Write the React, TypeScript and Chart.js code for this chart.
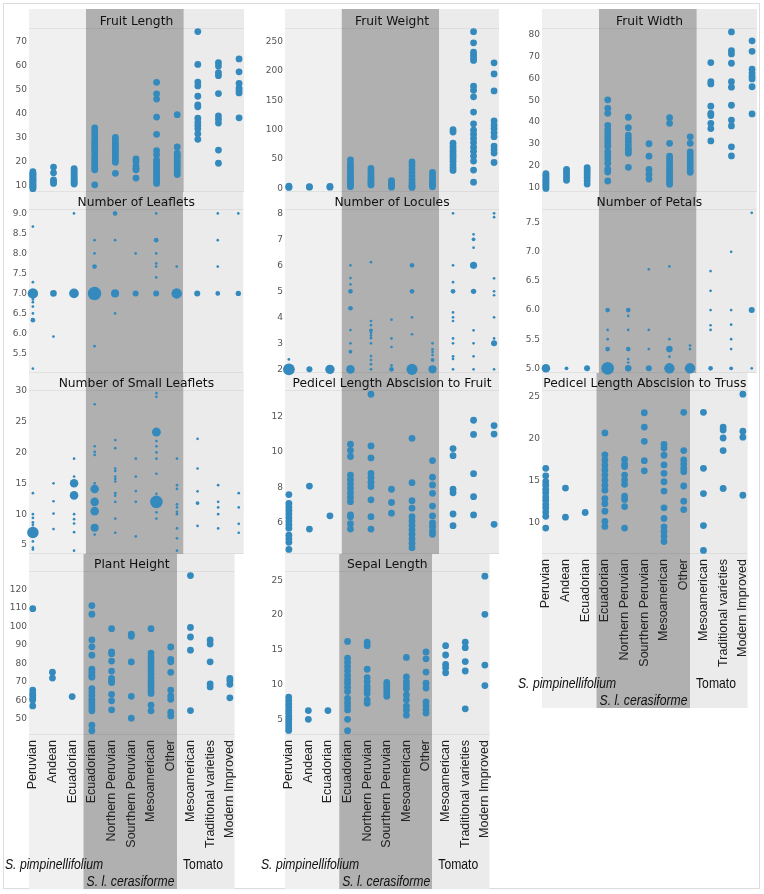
import React, { useEffect, useRef } from 'react';
import { Chart, registerables } from 'chart.js';
Chart.register(...registerables);

// ---------- data ----------
const categories = ['Peruvian', 'Andean', 'Ecuadorian', 'Ecuadorian', 'Northern Peruvian', 'Sourthern Peruvian', 'Mesoamerican', 'Other', 'Mesoamerican', 'Traditional varieties', 'Modern Improved'];
const groupNames = ['S. pimpinellifolium', 'S. l. cerasiforme', 'Tomato'];
const groupBounds = [-0.19, 2.575, 7.32, 10.24];

const fruitLength = [
  [8.6, 9.1, 9.6, 10.1, 10.5, 11.0, 11.6, 12.1, 12.5, 13.0, 13.6, 14.1, 14.6, 15.0, 15.7],
  [17.6, 15.2, 12.3, 11.5, 10.8],
  [17.0, 16.2, 15.3, 14.5, 13.7, 13.0, 12.3, 11.6, 11.0, 10.5],
  [34.0, 33.0, 31.6, 30.4, 29.1, 28.0, 27.0, 26.1, 25.0, 24.4, 23.1, 22.0, 21.0, 20.1, 19.0, 18.0, 17.1, 16.5, 10.2],
  [30.0, 29.1, 28.0, 27.1, 26.4, 25.5, 24.6, 23.5, 22.4, 21.6, 20.5, 19.6, 15.0],
  [21.0, 20.0, 18.1, 17.0, 16.5, 13.0],
  [53.0, 48.2, 46.0, 38.5, 31.3, 24.5, 22.8, 20.6, 19.5, 18.6, 17.5, 16.6, 15.5, 14.5, 13.6, 12.5, 11.6, 10.8],
  [39.5, 26.0, 23.4, 22.5, 21.6, 20.5, 19.6, 18.5, 17.6, 16.5, 15.6, 14.5],
  [74.2, 60.5, 53.1, 51.5, 47.2, 43.6, 42.8, 38.0, 36.4, 35.0, 33.6, 31.5, 29.2],
  [61.2, 59.8, 57.0, 55.8, 48.3, 39.0, 37.6, 36.0, 24.7, 19.2],
  [62.8, 57.4, 52.6, 50.6, 49.6, 48.6, 38.2],
];
const fruitLengthTicks = [10, 20, 30, 40, 50, 60, 70];

const fruitWeight = [
  [1.5, 2.5, 3.5],
  [2.0, 3.0],
  [2.0, 3.2],
  [48.5, 42.0, 37.0, 32.5, 28.5, 24.5, 20.5, 17.0, 13.5, 10.5, 7.5, 5.0, 2.8],
  [34.0, 29.0, 24.0, 20.0, 16.0, 12.0, 8.5, 5.8],
  [13.2, 10.0, 7.0, 4.0, 2.0],
  [45.0, 39.5, 33.0, 27.0, 21.0, 15.0, 10.0, 6.0, 3.0, 1.5],
  [27.0, 21.0, 16.0, 12.0, 8.0, 5.0, 2.5],
  [100.0, 96.0, 77.0, 72.0, 67.5, 63.0, 58.5, 54.5, 50.0, 45.5, 40.0, 35.0, 30.5],
  [267, 248, 232, 227, 222, 218, 174, 167, 156, 130, 110, 99, 92, 85, 78, 70, 63, 55, 46.5, 31, 10.5],
  [214, 195, 166, 115, 108, 102, 95, 88, 72, 66, 60, 44],
];
const fruitWeightTicks = [0, 50, 100, 150, 200, 250];

const fruitWidth = [
  [16.3, 15.6, 14.8, 14.0, 13.2, 12.5, 11.8, 11.0, 10.3, 9.5],
  [18.2, 17.0, 15.8, 14.5, 13.2],
  [19.0, 18.0, 17.0, 15.8, 14.5, 13.0, 11.5],
  [50.2, 46.3, 44.0, 38.5, 36.5, 34.8, 33.2, 31.7, 30.0, 28.7, 26.3, 24.8, 23.0, 21.0, 18.3, 17.0, 12.9],
  [42.2, 37.4, 34.0, 32.5, 31.0, 29.5, 28.0, 26.8, 25.6, 19.2],
  [30.0, 24.3, 18.2, 16.0, 13.8],
  [42.0, 39.4, 30.2, 24.3, 23.0, 21.8, 20.5, 19.2, 18.0, 17.0, 15.8, 14.6, 13.5, 12.3, 11.4],
  [33.2, 30.2, 26.3, 24.8, 23.3, 21.8, 20.4, 19.0, 17.8, 16.9],
  [67.3, 58.5, 57.5, 47.3, 44.0, 43.0, 39.4, 37.0, 31.3],
  [81.4, 72.8, 71.3, 67.0, 58.5, 56.0, 47.7, 40.9, 38.2, 28.6, 24.4],
  [77.3, 72.5, 64.3, 62.5, 61.0, 59.8, 56.2, 43.7],
];
const fruitWidthTicks = [10, 20, 30, 40, 50, 60, 70, 80];

// [value, number of accessions]
const leaflets = [
  [[8.67, 1], [7.28, 1], [7.0, 15], [6.85, 1], [6.78, 1], [6.67, 1], [6.5, 1], [6.33, 3], [5.12, 1]],
  [[7.0, 6], [5.92, 1]],
  [[9.0, 1], [7.0, 13]],
  [[8.33, 1], [8.0, 1], [7.67, 3], [7.0, 25], [5.68, 1]],
  [[9.0, 3], [8.33, 1], [7.0, 9], [6.5, 1]],
  [[8.0, 1], [7.0, 5]],
  [[9.0, 1], [8.33, 3], [8.0, 1], [7.75, 1], [7.67, 1], [7.4, 1], [7.0, 5]],
  [[7.67, 1], [7.0, 15]],
  [[7.0, 5]],
  [[9.0, 1], [8.33, 1], [7.67, 1], [7.0, 3]],
  [[9.0, 1], [7.0, 4]],
];
const leafletTicks = [5.5, 6.0, 6.5, 7.0, 7.5, 8.0, 8.5, 9.0];

const locules = [
  [[2.38, 1], [2.0, 19]],
  [[2.0, 5]],
  [[2.0, 12]],
  [[6.0, 1], [5.51, 1], [5.27, 1], [5.0, 3], [4.35, 3], [3.51, 1], [3.0, 1], [2.68, 2], [2.0, 10]],
  [[6.12, 1], [3.86, 1], [3.7, 1], [3.5, 2], [3.4, 1], [3.3, 1], [3.2, 1], [3.0, 1], [2.51, 1], [2.36, 1], [2.2, 1], [2.0, 1]],
  [[3.91, 1], [3.19, 1], [2.86, 1], [2.15, 1], [2.0, 3]],
  [[6.0, 3], [5.0, 3], [4.0, 1], [3.35, 1], [2.0, 17]],
  [[3.0, 1], [2.77, 1], [2.67, 1], [2.55, 1], [2.36, 2], [2.0, 9]],
  [[8.0, 1], [6.0, 1], [5.35, 1], [5.0, 3], [4.19, 1], [4.0, 1], [3.86, 1], [3.19, 1], [3.0, 1], [2.5, 1], [2.4, 1], [2.0, 1]],
  [[7.19, 1], [7.0, 2], [6.68, 1], [6.0, 7], [5.0, 4], [3.5, 1], [3.0, 1], [2.5, 1], [2.0, 1]],
  [[8.0, 1], [7.85, 1], [5.5, 1], [5.0, 1], [4.85, 1], [4.0, 1], [3.19, 1], [3.0, 5], [2.0, 1]],
];
const loculeTicks = [2, 3, 4, 5, 6, 7, 8];

const petals = [
  [[5.0, 10]],
  [[5.0, 2]],
  [[5.0, 5]],
  [[6.0, 3], [5.66, 1], [5.5, 1], [5.33, 3], [5.0, 22]],
  [[6.0, 3], [5.9, 1], [5.66, 1], [5.33, 3], [5.16, 1], [5.1, 1], [5.0, 6]],
  [[6.7, 1], [5.66, 1], [5.33, 1], [5.0, 5]],
  [[6.75, 1], [5.5, 1], [5.33, 6], [5.2, 1], [5.0, 15]],
  [[5.39, 1], [5.33, 1], [5.0, 15]],
  [[6.67, 1], [6.33, 1], [6.0, 1], [5.74, 1], [5.66, 1], [5.0, 3]],
  [[7.0, 1], [6.0, 1], [5.75, 1], [5.5, 1], [5.33, 1], [5.0, 2]],
  [[7.67, 1], [6.0, 5], [5.0, 1]],
];
const petalTicks = [5.0, 5.5, 6.0, 6.5, 7.0, 7.5];

const smallLeaflets = [
  [[13.4, 1], [10.0, 1], [9.4, 1], [8.7, 1], [8.3, 1], [7.8, 1], [7.05, 18], [5.6, 1], [4.6, 1], [4.3, 1]],
  [[15.0, 1], [12.1, 1], [10.1, 1], [7.6, 1]],
  [[19.0, 1], [16.1, 1], [15.0, 10], [13.05, 10], [10.0, 1], [9.2, 1], [8.5, 1], [7.1, 1], [4.1, 1]],
  [[27.8, 1], [21.0, 1], [20.1, 1], [19.6, 1], [15.0, 1], [14.07, 10], [12.0, 10], [10.5, 10], [7.8, 9], [6.7, 1]],
  [[22.0, 1], [20.7, 1], [17.4, 1], [17.0, 1], [16.1, 1], [15.7, 1], [15.3, 1], [13.4, 1], [13.0, 1], [12.0, 1], [9.3, 1], [7.0, 1]],
  [[19.0, 1], [16.1, 1], [13.75, 1], [12.0, 1], [6.4, 1]],
  [[29.6, 1], [29.0, 1], [23.3, 11], [21.85, 1], [21.0, 1], [20.0, 1], [19.0, 1], [16.55, 1], [13.3, 1], [12.0, 22], [10.3, 1], [9.3, 1]],
  [[19.0, 1], [14.7, 1], [14.1, 1], [11.6, 1], [11.1, 1], [10.4, 1], [10.0, 1], [7.7, 1], [6.1, 1], [4.1, 1]],
  [[22.2, 1], [17.4, 1], [13.7, 1], [11.8, 2], [8.1, 1]],
  [[14.7, 1], [12.0, 1], [11.1, 1], [10.0, 1], [7.7, 1]],
  [[13.4, 1], [11.1, 1], [8.45, 1], [7.0, 1]],
];
const smallLeafletTicks = [5, 10, 15, 20, 25, 30];

const plantHeight = [
  [109.5, 65.5, 63.7, 62.5, 61.0, 60.1, 56.9],
  [75.2, 72.0],
  [62.0],
  [111.2, 106.5, 92.6, 88.9, 84.4, 76.8, 75.2, 73.5, 72.5, 66.3, 64.5, 62.5, 60.5, 59.0, 57.5, 55.8, 54.3, 46.5, 43.5],
  [98.7, 86.2, 85.2, 81.2, 75.8, 71.8, 70.5, 69.6, 63.2, 59.7, 54.8],
  [95.7, 94.6, 80.7, 62.1, 50.3],
  [98.7, 85.5, 83.5, 81.8, 79.8, 78.0, 76.0, 74.3, 72.3, 70.5, 68.8, 67.0, 65.2, 63.7, 57.4, 54.3],
  [88.8, 82.1, 80.8, 75.1, 65.5, 62.3, 60.5, 53.5, 51.5],
  [127.4, 99.4, 94.2, 87.1, 54.4],
  [92.6, 90.4, 80.8, 68.9, 67.2],
  [71.8, 70.5, 68.6, 61.3],
];
const plantHeightTicks = [50, 60, 70, 80, 90, 100, 110, 120];

const pedicelFruit = [
  [7.6, 7.1, 6.9, 6.7, 6.5, 6.3, 6.1, 5.9, 5.7, 5.3, 5.1, 4.9, 4.5],
  [8.08, 5.65],
  [6.4],
  [10.45, 10.1, 9.75, 8.7, 8.45, 8.2, 7.95, 7.7, 7.45, 7.2, 6.45, 6.35, 5.95, 5.65],
  [13.27, 10.35, 9.67, 8.8, 8.55, 8.3, 8.05, 7.3, 6.35, 5.65],
  [7.9, 7.15, 6.55],
  [10.78, 8.27, 7.25, 6.83, 6.35, 6.1, 5.85, 5.6, 5.35, 5.1, 4.85, 4.6],
  [9.52, 8.58, 8.14, 7.67, 6.95, 6.39, 6.0, 5.8, 5.55, 5.35],
  [10.2, 9.8, 7.9, 7.7, 6.5, 5.84],
  [11.8, 11.0, 8.78, 7.48, 6.45],
  [11.5, 11.02, 5.92],
];
const pedicelFruitTicks = [6, 8, 10, 12];

const sepalLength = [
  [8.2, 7.7, 7.2, 6.8, 6.3, 5.9, 5.4, 5.0, 4.6, 4.2, 3.8, 3.4],
  [6.25, 5.0],
  [6.25],
  [16.2, 13.8, 13.2, 12.6, 12.0, 11.3, 10.7, 10.2, 9.6, 9.0, 8.0, 7.4, 6.9, 6.35, 5.0, 3.36],
  [16.1, 15.6, 12.2, 11.0, 10.4, 9.7, 9.2, 8.7, 7.8, 7.3],
  [10.3, 9.9, 9.5, 9.1, 8.7, 8.3],
  [13.9, 11.1, 10.4, 9.9, 9.4, 8.5, 7.8, 6.9, 6.3, 5.6],
  [14.7, 13.7, 11.8, 10.2, 9.5, 7.5, 7.0, 6.4, 5.9],
  [15.6, 14.25, 12.9, 12.4, 11.7],
  [16.1, 15.3, 13.3, 11.95, 6.5],
  [25.6, 20.1, 12.8, 9.85],
];
const sepalTicks = [5, 10, 15, 20, 25];

const pedicelTruss = [
  [16.5, 15.6, 14.9, 14.5, 14.0, 13.6, 13.1, 12.7, 12.2, 11.8, 11.3, 10.8, 9.4],
  [14.15, 10.7],
  [11.25],
  [20.7, 18.1, 17.5, 16.9, 16.3, 15.7, 15.1, 14.5, 13.9, 12.9, 12.3, 11.4, 10.2, 9.6],
  [17.55, 17.0, 16.7, 15.7, 15.1, 14.6, 13.2, 12.8, 11.95, 9.4],
  [23.1, 21.4, 19.7, 17.4, 16.2],
  [19.35, 18.9, 18.05, 16.9, 15.9, 14.9, 13.8, 11.8, 10.55, 9.55, 9.0, 8.4, 7.8],
  [23.15, 18.6, 17.5, 17.0, 16.5, 16.1, 14.4, 12.6, 11.6],
  [23.15, 16.5, 13.5, 9.7, 6.75],
  [21.4, 21.05, 20.1, 18.6, 14.1],
  [25.3, 20.9, 20.2, 13.3],
];
const pedicelTrussTicks = [10, 15, 20, 25];

// ---------- layout / style ----------
const COL_LEFT = [29, 285, 542];
const COL_W = [215, 214, 215];
const ROW_TOP = [28, 209, 390, 571];
const PLOT_H = 164;
const AXIS_W = 28;
const PAD_R = 6;
const OVER = 8;
const XAXIS_H = 154;
const GROUP_COLORS = ['#f0f0f0', '#b0b0b0', '#ebebeb'];
const DOT = '#348ABD';
const NARROW = 0.84;

type PanelDef = {
  title: string; values: any[]; sized?: boolean; ticks: number[];
  min: number; max: number; dec: number; col: number; row: number; bottom?: boolean;
};

const panels: PanelDef[] = [
  { title: 'Fruit Length', values: fruitLength, ticks: fruitLengthTicks, min: 7.2, max: 75.7, dec: 0, col: 0, row: 0 },
  { title: 'Number of Leaflets', values: leaflets, sized: true, ticks: leafletTicks, min: 5.01, max: 9.11, dec: 1, col: 0, row: 1 },
  { title: 'Number of Small Leaflets', values: smallLeaflets, sized: true, ticks: smallLeafletTicks, min: 3.56, max: 30.11, dec: 0, col: 0, row: 2 },
  { title: 'Plant Height', values: plantHeight, ticks: plantHeightTicks, min: 41.2, max: 129.9, dec: 0, col: 0, row: 3, bottom: true },
  { title: 'Fruit Weight', values: fruitWeight, ticks: fruitWeightTicks, min: -6.3, max: 273.3, dec: 0, col: 1, row: 0 },
  { title: 'Number of Locules', values: locules, sized: true, ticks: loculeTicks, min: 1.86, max: 8.165, dec: 0, col: 1, row: 1 },
  { title: 'Pedicel Length Abscision to Fruit', values: pedicelFruit, ticks: pedicelFruitTicks, min: 4.24, max: 13.51, dec: 0, col: 1, row: 2 },
  { title: 'Sepal Length', values: sepalLength, ticks: sepalTicks, min: 2.74, max: 26.34, dec: 0, col: 1, row: 3, bottom: true },
  { title: 'Fruit Width', values: fruitWidth, ticks: fruitWidthTicks, min: 7.84, max: 83.2, dec: 0, col: 2, row: 0 },
  { title: 'Number of Petals', values: petals, sized: true, ticks: petalTicks, min: 4.92, max: 7.735, dec: 1, col: 2, row: 1 },
  { title: 'Pedicel Length Abscision to Truss', values: pedicelTruss, ticks: pedicelTrussTicks, min: 6.32, max: 25.8, dec: 0, col: 2, row: 2, bottom: true },
];

function narrowText(ctx: CanvasRenderingContext2D, text: string, x: number, y: number) {
  ctx.save();
  ctx.translate(x, y);
  ctx.scale(NARROW, 1);
  ctx.fillText(text, 0, 0);
  ctx.restore();
}

function Panel({ def }: { def: PanelDef }) {
  const ref = useRef<HTMLCanvasElement>(null);
  const top = def.row === 0 ? 9 : ROW_TOP[def.row - 1] + PLOT_H;
  const strip = ROW_TOP[def.row] - top;
  const height = strip + PLOT_H + (def.bottom ? XAXIS_H : OVER);
  const width = AXIS_W + COL_W[def.col] + PAD_R;
  const left = COL_LEFT[def.col] - AXIS_W;

  useEffect(() => {
    const points: any[] = [];
    def.values.forEach((arr: any[], i: number) => {
      arr.forEach((v: any) => {
        if (def.sized) points.push({ x: i, y: v[0], r: 1.35 * Math.sqrt(v[1]) });
        else points.push({ x: i, y: v, r: 3.4 });
      });
    });

    const panelPlugin = {
      id: 'panelDecor',
      beforeDraw(chart: any) {
        const { ctx, chartArea } = chart;
        const x = chart.scales.x;
        const bottomY = def.bottom ? chart.height : chartArea.bottom;
        ctx.save();
        for (let g = 0; g < 3; g++) {
          const x0 = x.getPixelForValue(groupBounds[g]);
          const x1 = x.getPixelForValue(groupBounds[g + 1]);
          ctx.fillStyle = GROUP_COLORS[g];
          ctx.fillRect(x0, 0, x1 - x0, bottomY);
        }
        ctx.fillStyle = 'rgba(0,0,0,0.06)';
        ctx.fillRect(chartArea.left, chartArea.top, chartArea.right - chartArea.left, 1);
        ctx.fillRect(chartArea.left, chartArea.bottom - 1, chartArea.right - chartArea.left, 1);
        ctx.fillStyle = '#111';
        ctx.font = '12.3px "DejaVu Sans", sans-serif';
        ctx.textAlign = 'center';
        ctx.textBaseline = 'middle';
        ctx.fillText(def.title, (chartArea.left + chartArea.right) / 2, chartArea.top - 6);
        if (def.bottom) {
          const H = chart.height;
          ctx.textAlign = 'left';
          ctx.fillStyle = '#111';
          ctx.font = 'italic 14.5px "Liberation Sans", Arial, sans-serif';
          narrowText(ctx, groupNames[0], chartArea.left - 24, H - 24);
          narrowText(ctx, groupNames[1], x.getPixelForValue(groupBounds[1]) + 3, H - 7);
          ctx.font = '14.5px "Liberation Sans", Arial, sans-serif';
          narrowText(ctx, groupNames[2], x.getPixelForValue(groupBounds[2]) + 6, H - 24);
        }
        ctx.restore();
      },
    };

    const xScale: any = {
      type: 'linear',
      min: groupBounds[0],
      max: groupBounds[3],
      bounds: 'data',
      display: !!def.bottom,
      afterBuildTicks: (s: any) => { s.ticks = categories.map((_, i) => ({ value: i })); },
      ticks: {
        autoSkip: false,
        minRotation: 90,
        maxRotation: 90,
        padding: 5,
        color: '#222',
        font: { family: '"Liberation Sans", Arial, sans-serif', size: 12.5 },
        callback: (_v: any, i: number) => categories[i],
      },
      grid: { display: false, drawTicks: false },
      border: { display: false },
    };
    if (def.bottom) xScale.afterFit = (s: any) => { s.height = XAXIS_H; };

    const chart = new Chart(ref.current as HTMLCanvasElement, {
      type: 'bubble',
      data: {
        datasets: [{
          data: points,
          backgroundColor: DOT,
          borderWidth: 0,
          hoverRadius: 0,
          clip: false,
        } as any],
      },
      options: {
        responsive: false,
        animation: false,
        devicePixelRatio: 1,
        events: [],
        layout: { padding: { top: strip, left: 0, right: PAD_R, bottom: def.bottom ? 0 : OVER } },
        plugins: { legend: { display: false }, tooltip: { enabled: false } },
        scales: {
          x: xScale,
          y: {
            type: 'linear',
            min: def.min,
            max: def.max,
            bounds: 'data',
            afterBuildTicks: (s: any) => { s.ticks = def.ticks.map((v) => ({ value: v })); },
            afterFit: (s: any) => { s.width = AXIS_W; },
            ticks: {
              padding: 2,
              color: '#555',
              font: { family: '"DejaVu Sans", sans-serif', size: 9 },
              callback: (v: any) => Number(v).toFixed(def.dec),
            },
            grid: { display: false, drawTicks: false },
            border: { display: false },
          },
        },
      } as any,
      plugins: [panelPlugin],
    });
    return () => chart.destroy();
  }, []);

  return (
    <canvas
      ref={ref}
      width={width}
      height={height}
      style={{ position: 'absolute', left, top, width, height, zIndex: 10 - def.row }}
    />
  );
}

export default function App() {
  return (
    <div style={{ position: 'absolute', left: 0, top: 0, width: 764, height: 894, background: '#fff', overflow: 'hidden' }}>
      <div style={{ position: 'absolute', left: 3, top: 3, width: 757, height: 886, border: '1px solid #dcdcdc', boxSizing: 'border-box' }} />
      {panels.map((p, i) => <Panel key={i} def={p} />)}
    </div>
  );
}
